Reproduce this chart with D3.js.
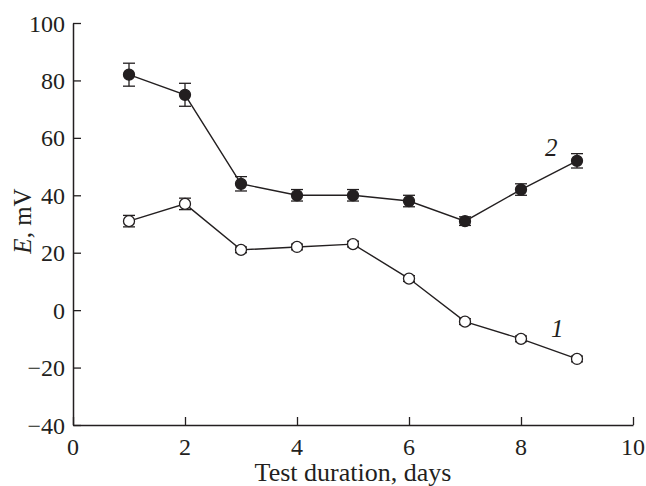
<!DOCTYPE html>
<html>
<head>
<meta charset="utf-8">
<script src="https://cdn.jsdelivr.net/npm/d3@7"></script>
<style>
  body { margin: 0; background: #fff; }
  text { font-family: "Liberation Serif", "DejaVu Serif", serif; fill: #231f20; }
</style>
</head>
<body>
<svg id="chart" width="646" height="486"></svg>
<script>
// test duration, days
let days = [1, 2, 3, 4, 5, 6, 7, 8, 9];
// curve 1 (open circles)
let curve1 = [31, 37, 21, 22, 23, 11, -4, -10, -17];
let err1 = [2, 2, 1, 1, 1, 1, 1, 1, 1];
// curve 2 (filled circles)
let curve2 = [82, 75, 44, 40, 40, 38, 31, 42, 52];
let err2 = [4, 4, 2.5, 2, 2, 2, 1.5, 2, 2.5];

let xTicks = [0, 2, 4, 6, 8, 10];
let yTicks = [-40, -20, 0, 20, 40, 60, 80, 100];

let svg = d3.select("#chart");
let ink = "#231f20";

// axis ranges in pixels
let x = d3.scaleLinear().domain([0, 10]).range([73, 633]);
let y = d3.scaleLinear().domain([-40, 100]).range([425, 23]);

// y axis, ticks point inward
let yAxis = svg.append("g")
    .attr("transform", `translate(${x(0)},0)`)
    .call(d3.axisRight(y).tickValues(yTicks).tickSize(8).tickSizeOuter(0).tickFormat(""));
yAxis.select(".domain").attr("stroke", ink).attr("stroke-width", 1.5);
yAxis.selectAll(".tick line").attr("stroke", ink).attr("stroke-width", 1.3);

// x axis, ticks point up
let xAxis = svg.append("g")
    .attr("transform", `translate(0,${y(-40)})`)
    .call(d3.axisTop(x).tickValues(xTicks).tickSize(8).tickSizeOuter(0).tickFormat(""));
xAxis.select(".domain").attr("stroke", ink).attr("stroke-width", 1.5);
xAxis.selectAll(".tick line").attr("stroke", ink).attr("stroke-width", 1.3);

// tick labels
svg.selectAll(".ylab")
  .data(yTicks)
  .enter().append("text")
    .attr("x", x(0) - 8)
    .attr("y", d => y(d) + 8.5)
    .attr("text-anchor", "end")
    .attr("font-size", 24)
    .text(d => d < 0 ? "\u2212" + Math.abs(d) : d);

svg.selectAll(".xlab")
  .data(xTicks)
  .enter().append("text")
    .attr("x", d => x(d))
    .attr("y", y(-40) + 30)
    .attr("text-anchor", "middle")
    .attr("font-size", 24)
    .text(d => d);

// axis titles
svg.append("text")
    .attr("x", 353)
    .attr("y", 481)
    .attr("text-anchor", "middle")
    .attr("font-size", 26)
    .text("Test duration, days");

let yTitle = svg.append("text")
    .attr("transform", "translate(31,221) rotate(-90)")
    .attr("text-anchor", "middle")
    .attr("font-size", 25);
yTitle.append("tspan").attr("font-style", "italic").text("E");
yTitle.append("tspan").text(", mV");

function drawSeries(vals, errs, filled) {
  let pts = days.map((d, i) => ({x: d, v: vals[i], e: errs[i]}));
  let g = svg.append("g");

  g.append("path")
      .datum(pts)
      .attr("fill", "none")
      .attr("stroke", ink)
      .attr("stroke-width", 1.4)
      .attr("d", d3.line().x(d => x(d.x)).y(d => y(d.v)));

  // error bars
  let eb = g.selectAll(".err").data(pts).enter().append("g");
  eb.append("line")
      .attr("x1", d => x(d.x)).attr("x2", d => x(d.x))
      .attr("y1", d => y(d.v + d.e)).attr("y2", d => y(d.v - d.e))
      .attr("stroke", ink).attr("stroke-width", 1.3);
  [1, -1].forEach(s => {
    eb.append("line")
        .attr("x1", d => x(d.x) - 6).attr("x2", d => x(d.x) + 6)
        .attr("y1", d => y(d.v + s * d.e)).attr("y2", d => y(d.v + s * d.e))
        .attr("stroke", ink).attr("stroke-width", 1.3);
  });

  g.selectAll("circle")
    .data(pts)
    .enter().append("circle")
      .attr("cx", d => x(d.x))
      .attr("cy", d => y(d.v))
      .attr("r", 5.5)
      .attr("fill", filled ? ink : "#fff")
      .attr("stroke", ink)
      .attr("stroke-width", 1.3);
}

drawSeries(curve1, err1, false);
drawSeries(curve2, err2, true);

// curve numbers
svg.append("text")
    .attr("x", 545).attr("y", 156)
    .attr("font-size", 25).attr("font-style", "italic")
    .text("2");
svg.append("text")
    .attr("x", 551).attr("y", 337)
    .attr("font-size", 25).attr("font-style", "italic")
    .text("1");
</script>
</body>
</html>
